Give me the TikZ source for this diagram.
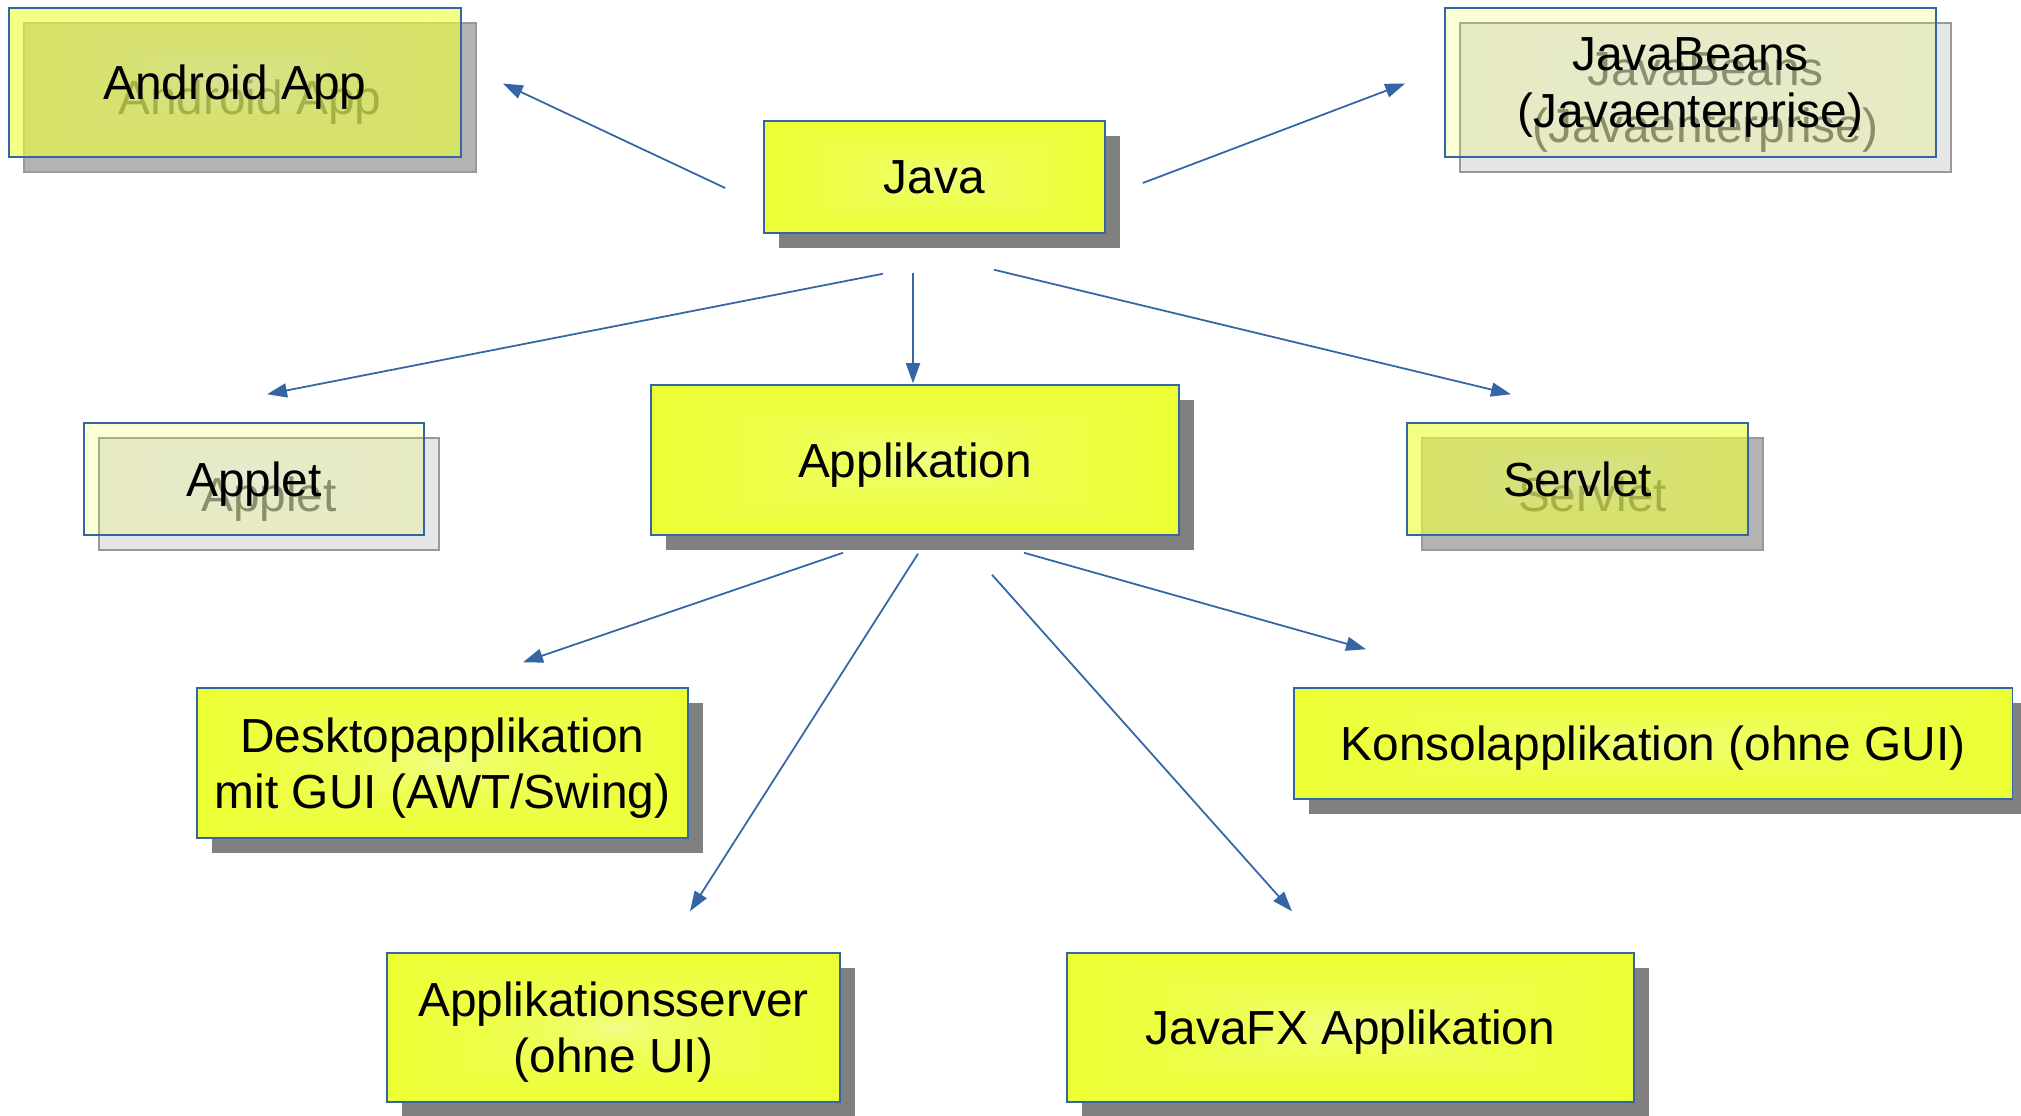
\documentclass[tikz,border=0pt]{standalone}
\usepackage{fontspec}
\setmainfont{Liberation Sans}
\usetikzlibrary{arrows.meta,shadows}

\definecolor{javayellow}{RGB}{234,255,26}
\definecolor{boxblue}{RGB}{52,101,164}
\definecolor{shadowgray}{RGB}{128,128,128}
\definecolor{shadowmid}{RGB}{179,179,179}
\definecolor{shadowlight}{RGB}{230,230,230}

% yellow at the edges, pale in the middle
\pgfdeclarefunctionalshading{boxglow}{\pgfpoint{-50bp}{-50bp}}{\pgfpoint{50bp}{50bp}}{}{
  abs exch abs 2 copy lt {exch} if pop 50 div sqrt sqrt
  dup dup
  -0.042 mul 0.96 add 3 1 roll
  0.01 mul 0.99 add exch
  -0.658 mul 0.76 add
}

\tikzset{
  box/.style={draw=boxblue, line width=0.4pt, shading=boxglow, shade, align=center,
    font=\fontsize{13.6}{16}\selectfont, inner sep=0pt, text depth=0pt},
  solidshadow/.style={drop shadow={shadow xshift=0.15cm, shadow yshift=-0.15cm,
    fill=shadowgray, draw=none, opacity=1}},
  fadebox/.style={fill opacity=#1, text opacity=1},
  ghost/.style={fill=#1, draw=gray!80, line width=0.4pt, align=center,
    font=\fontsize{13.6}{16}\selectfont, inner sep=0pt, text depth=0pt},
  link/.style={draw=boxblue, line width=0.5pt, -{Triangle[length=2mm,width=1.4mm]}}
}

\begin{document}
\begin{tikzpicture}[x=0.01cm, y=-0.01cm]
    \useasboundingbox (0,0) rectangle (2021,1115);

    % Shadows of the faded boxes
    \node[ghost=shadowmid, text=black!80, minimum width=4.52cm, minimum height=1.49cm] (android-sh) at (250,97.5) {Android App};
    \node[ghost=shadowlight, text=black!55, minimum width=4.91cm, minimum height=1.49cm] (beans-sh) at (1705.5,97.5) {JavaBeans\\(Javaenterprise)};
    \node[ghost=shadowlight, text=black!55, minimum width=3.40cm, minimum height=1.12cm] (applet-sh) at (269,494) {Applet};
    \node[ghost=shadowmid, text=black!80, minimum width=3.41cm, minimum height=1.12cm] (servlet-sh) at (1592.5,494) {Servlet};

    % Top row
    \node[box, fadebox=0.62, minimum width=4.52cm, minimum height=1.49cm] (android) at (235,82.5) {Android App};
    \node[box, solidshadow, minimum width=3.41cm, minimum height=1.12cm] (java) at (934.5,177) {Java};
    \node[box, fadebox=0.2, minimum width=4.91cm, minimum height=1.49cm] (beans) at (1690.5,82.5) {JavaBeans\\(Javaenterprise)};

    % Middle row
    \node[box, fadebox=0.2, minimum width=3.40cm, minimum height=1.12cm] (applet) at (254,479) {Applet};
    \node[box, solidshadow, minimum width=5.28cm, minimum height=1.50cm] (appl) at (915,460) {Applikation};
    \node[box, fadebox=0.62, minimum width=3.41cm, minimum height=1.12cm] (servlet) at (1577.5,479) {Servlet};

    % Kinds of Applikation
    \node[box, solidshadow, minimum width=4.91cm, minimum height=1.50cm] (desktop) at (442.5,763) {Desktopapplikation\\mit GUI (AWT/Swing)};
    \node[box, solidshadow, minimum width=7.18cm, minimum height=1.11cm] (konsol) at (1653,743.5) {Konsolapplikation (ohne GUI)};
    \node[box, solidshadow, minimum width=4.53cm, minimum height=1.49cm] (server) at (613.5,1027.5) {Applikationsserver\\(ohne UI)};
    \node[box, solidshadow, minimum width=5.67cm, minimum height=1.49cm] (javafx) at (1350.5,1027.5) {JavaFX Applikation};

    % Arrows from Java
    \draw[link] ([shift={(-38,11)}]java.west) -- ([shift={(41,1)}]android.east);
    \draw[link] ([shift={(37,6)}]java.east) -- ([shift={(-39,1)}]beans.west);
    \draw[link] ([shift={(-51.5,40)}]java.south) -- ([shift={(13,-28)}]applet.north);
    \draw[link] ([shift={(-21.5,39)}]java.south) -- ([shift={(-2,-1)}]appl.north);
    \draw[link] ([shift={(59.5,36)}]java.south) -- ([shift={(-66.5,-28)}]servlet.north);

    % Arrows from Applikation
    \draw[link] ([shift={(-72,17)}]appl.south) -- ([shift={(80.5,-25)}]desktop.north);
    \draw[link] ([shift={(3,18)}]appl.south) -- ([shift={(76.5,-41)}]server.north);
    \draw[link] ([shift={(77,39)}]appl.south) -- ([shift={(-58.5,-41)}]javafx.north);
    \draw[link] ([shift={(109,17)}]appl.south) -- ([shift={(73,-38)}]konsol.north west);
\end{tikzpicture}
\end{document}
